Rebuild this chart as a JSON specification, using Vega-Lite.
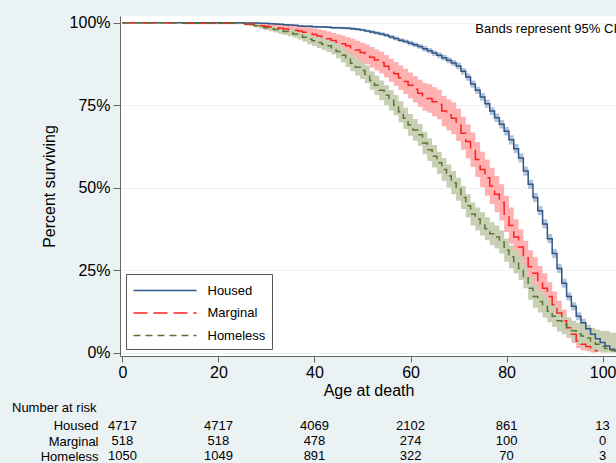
{
  "$schema": "https://vega.github.io/schema/vega-lite/v6.json",
  "background": "#eaf2f3",
  "padding": {"left": 12, "top": 14, "right": 0, "bottom": 0},
  "config": {"font": "Liberation Sans", "view": {"stroke": null}},
  "spacing": 4,
  "resolve": {"scale": {"stroke": "independent", "strokeDash": "independent", "x": "independent", "y": "independent"}, "legend": {"stroke": "independent", "strokeDash": "independent"}},
  "datasets": {
    "km": [
      {"g":"Housed","a":0,"s":100,"l":100,"u":100},
      {"g":"Housed","a":25,"s":100,"l":100,"u":100},
      {"g":"Housed","a":26,"s":99.9,"l":99.8,"u":100},
      {"g":"Housed","a":27,"s":99.9,"l":99.8,"u":100},
      {"g":"Housed","a":28,"s":99.9,"l":99.8,"u":100},
      {"g":"Housed","a":29,"s":99.8,"l":99.7,"u":99.9},
      {"g":"Housed","a":30,"s":99.8,"l":99.7,"u":99.9},
      {"g":"Housed","a":31,"s":99.7,"l":99.6,"u":99.8},
      {"g":"Housed","a":32,"s":99.6,"l":99.4,"u":99.8},
      {"g":"Housed","a":33,"s":99.5,"l":99.3,"u":99.7},
      {"g":"Housed","a":34,"s":99.4,"l":99.2,"u":99.6},
      {"g":"Housed","a":35,"s":99.3,"l":99.1,"u":99.5},
      {"g":"Housed","a":36,"s":99.2,"l":99.0,"u":99.4},
      {"g":"Housed","a":37,"s":99.0,"l":98.8,"u":99.2},
      {"g":"Housed","a":38,"s":98.9,"l":98.7,"u":99.1},
      {"g":"Housed","a":39,"s":98.9,"l":98.6,"u":99.2},
      {"g":"Housed","a":40,"s":98.8,"l":98.5,"u":99.1},
      {"g":"Housed","a":41,"s":98.7,"l":98.4,"u":99.0},
      {"g":"Housed","a":42,"s":98.7,"l":98.4,"u":99.0},
      {"g":"Housed","a":43,"s":98.6,"l":98.3,"u":98.9},
      {"g":"Housed","a":44,"s":98.5,"l":98.2,"u":98.8},
      {"g":"Housed","a":45,"s":98.5,"l":98.2,"u":98.8},
      {"g":"Housed","a":46,"s":98.4,"l":98.0,"u":98.8},
      {"g":"Housed","a":47,"s":98.3,"l":97.9,"u":98.7},
      {"g":"Housed","a":48,"s":98.2,"l":97.8,"u":98.6},
      {"g":"Housed","a":49,"s":98.0,"l":97.6,"u":98.4},
      {"g":"Housed","a":50,"s":97.8,"l":97.4,"u":98.2},
      {"g":"Housed","a":51,"s":97.5,"l":97.1,"u":97.9},
      {"g":"Housed","a":52,"s":97.2,"l":96.7,"u":97.7},
      {"g":"Housed","a":53,"s":96.9,"l":96.4,"u":97.4},
      {"g":"Housed","a":54,"s":96.6,"l":96.1,"u":97.1},
      {"g":"Housed","a":55,"s":96.2,"l":95.7,"u":96.7},
      {"g":"Housed","a":56,"s":95.7,"l":95.1,"u":96.3},
      {"g":"Housed","a":57,"s":95.2,"l":94.6,"u":95.8},
      {"g":"Housed","a":58,"s":94.7,"l":94.1,"u":95.3},
      {"g":"Housed","a":59,"s":94.3,"l":93.7,"u":94.9},
      {"g":"Housed","a":60,"s":93.8,"l":93.1,"u":94.5},
      {"g":"Housed","a":61,"s":93.3,"l":92.6,"u":94.0},
      {"g":"Housed","a":62,"s":92.8,"l":92.1,"u":93.5},
      {"g":"Housed","a":63,"s":92.1,"l":91.3,"u":92.9},
      {"g":"Housed","a":64,"s":91.5,"l":90.7,"u":92.3},
      {"g":"Housed","a":65,"s":90.8,"l":90.0,"u":91.6},
      {"g":"Housed","a":66,"s":90.1,"l":89.2,"u":91.0},
      {"g":"Housed","a":67,"s":89.4,"l":88.5,"u":90.3},
      {"g":"Housed","a":68,"s":88.6,"l":87.7,"u":89.5},
      {"g":"Housed","a":69,"s":87.8,"l":86.9,"u":88.7},
      {"g":"Housed","a":70,"s":86.9,"l":85.9,"u":87.9},
      {"g":"Housed","a":71,"s":85.3,"l":84.3,"u":86.3},
      {"g":"Housed","a":72,"s":83.5,"l":82.4,"u":84.6},
      {"g":"Housed","a":73,"s":81.4,"l":80.3,"u":82.5},
      {"g":"Housed","a":74,"s":79.5,"l":78.4,"u":80.6},
      {"g":"Housed","a":75,"s":77.5,"l":76.3,"u":78.7},
      {"g":"Housed","a":76,"s":75.4,"l":74.2,"u":76.6},
      {"g":"Housed","a":77,"s":73.2,"l":72.0,"u":74.4},
      {"g":"Housed","a":78,"s":71.2,"l":69.9,"u":72.5},
      {"g":"Housed","a":79,"s":69.2,"l":67.9,"u":70.5},
      {"g":"Housed","a":80,"s":67.1,"l":65.8,"u":68.4},
      {"g":"Housed","a":81,"s":64.5,"l":63.1,"u":65.9},
      {"g":"Housed","a":82,"s":61.8,"l":60.4,"u":63.2},
      {"g":"Housed","a":83,"s":59.0,"l":57.6,"u":60.4},
      {"g":"Housed","a":84,"s":55.0,"l":53.6,"u":56.4},
      {"g":"Housed","a":85,"s":51.0,"l":49.6,"u":52.4},
      {"g":"Housed","a":86,"s":47.0,"l":45.6,"u":48.4},
      {"g":"Housed","a":87,"s":43.0,"l":41.6,"u":44.4},
      {"g":"Housed","a":88,"s":39.0,"l":37.6,"u":40.4},
      {"g":"Housed","a":89,"s":34.5,"l":33.1,"u":35.9},
      {"g":"Housed","a":90,"s":30.0,"l":28.6,"u":31.4},
      {"g":"Housed","a":91,"s":25.5,"l":24.1,"u":26.9},
      {"g":"Housed","a":92,"s":21.0,"l":19.6,"u":22.4},
      {"g":"Housed","a":93,"s":17.0,"l":15.8,"u":18.2},
      {"g":"Housed","a":94,"s":14.0,"l":12.8,"u":15.2},
      {"g":"Housed","a":95,"s":11.0,"l":9.8,"u":12.2},
      {"g":"Housed","a":96,"s":9.0,"l":7.8,"u":10.2},
      {"g":"Housed","a":97,"s":7.2,"l":6.0,"u":8.4},
      {"g":"Housed","a":98,"s":5.5,"l":4.3,"u":6.7},
      {"g":"Housed","a":99,"s":4.2,"l":3.4,"u":5.0},
      {"g":"Housed","a":100,"s":3.0,"l":2.2,"u":3.8},
      {"g":"Housed","a":101,"s":2.0,"l":1.3,"u":2.7},
      {"g":"Housed","a":102,"s":1.0,"l":0.5,"u":1.5},
      {"g":"Housed","a":103,"s":0.5,"l":0.2,"u":0.8},
      {"g":"Marginal","a":0,"s":100,"l":100,"u":100},
      {"g":"Marginal","a":25,"s":99.8,"l":99.5,"u":100},
      {"g":"Marginal","a":26,"s":99.6,"l":99.1,"u":100},
      {"g":"Marginal","a":27,"s":99.5,"l":98.9,"u":100},
      {"g":"Marginal","a":28,"s":99.3,"l":98.6,"u":100},
      {"g":"Marginal","a":29,"s":99.1,"l":98.3,"u":99.9},
      {"g":"Marginal","a":30,"s":98.9,"l":98.0,"u":99.8},
      {"g":"Marginal","a":31,"s":98.7,"l":97.7,"u":99.7},
      {"g":"Marginal","a":32,"s":98.5,"l":97.4,"u":99.6},
      {"g":"Marginal","a":33,"s":98.3,"l":97.1,"u":99.5},
      {"g":"Marginal","a":34,"s":98.1,"l":96.8,"u":99.4},
      {"g":"Marginal","a":35,"s":97.9,"l":96.5,"u":99.3},
      {"g":"Marginal","a":36,"s":97.7,"l":96.2,"u":99.2},
      {"g":"Marginal","a":37,"s":97.5,"l":95.9,"u":99.1},
      {"g":"Marginal","a":38,"s":97.1,"l":95.4,"u":98.8},
      {"g":"Marginal","a":39,"s":96.8,"l":95.0,"u":98.6},
      {"g":"Marginal","a":40,"s":96.4,"l":94.5,"u":98.3},
      {"g":"Marginal","a":41,"s":96.0,"l":94.0,"u":98.0},
      {"g":"Marginal","a":42,"s":95.6,"l":93.5,"u":97.7},
      {"g":"Marginal","a":43,"s":95.1,"l":92.9,"u":97.3},
      {"g":"Marginal","a":44,"s":94.6,"l":92.3,"u":96.9},
      {"g":"Marginal","a":45,"s":94.1,"l":91.7,"u":96.5},
      {"g":"Marginal","a":46,"s":93.6,"l":91.1,"u":96.1},
      {"g":"Marginal","a":47,"s":93.0,"l":90.4,"u":95.6},
      {"g":"Marginal","a":48,"s":92.4,"l":89.7,"u":95.1},
      {"g":"Marginal","a":49,"s":91.7,"l":88.9,"u":94.5},
      {"g":"Marginal","a":50,"s":91.0,"l":88.1,"u":93.9},
      {"g":"Marginal","a":51,"s":90.4,"l":87.4,"u":93.4},
      {"g":"Marginal","a":52,"s":89.5,"l":86.4,"u":92.6},
      {"g":"Marginal","a":53,"s":88.7,"l":85.5,"u":91.9},
      {"g":"Marginal","a":54,"s":87.9,"l":84.6,"u":91.2},
      {"g":"Marginal","a":55,"s":86.8,"l":83.4,"u":90.2},
      {"g":"Marginal","a":56,"s":85.6,"l":82.1,"u":89.1},
      {"g":"Marginal","a":57,"s":84.5,"l":80.9,"u":88.1},
      {"g":"Marginal","a":58,"s":83.3,"l":79.6,"u":87.0},
      {"g":"Marginal","a":59,"s":82.2,"l":78.4,"u":86.0},
      {"g":"Marginal","a":60,"s":81.0,"l":77.1,"u":84.9},
      {"g":"Marginal","a":61,"s":79.8,"l":75.8,"u":83.8},
      {"g":"Marginal","a":62,"s":78.6,"l":74.5,"u":82.7},
      {"g":"Marginal","a":63,"s":77.5,"l":73.3,"u":81.7},
      {"g":"Marginal","a":64,"s":77.0,"l":72.7,"u":81.3},
      {"g":"Marginal","a":65,"s":76.0,"l":71.6,"u":80.4},
      {"g":"Marginal","a":66,"s":75.2,"l":70.7,"u":79.7},
      {"g":"Marginal","a":67,"s":73.2,"l":68.6,"u":77.8},
      {"g":"Marginal","a":68,"s":72.0,"l":67.3,"u":76.7},
      {"g":"Marginal","a":69,"s":71.0,"l":66.2,"u":75.8},
      {"g":"Marginal","a":70,"s":69.0,"l":64.1,"u":73.9},
      {"g":"Marginal","a":71,"s":66.5,"l":61.5,"u":71.5},
      {"g":"Marginal","a":72,"s":64.0,"l":58.9,"u":69.1},
      {"g":"Marginal","a":73,"s":61.5,"l":56.3,"u":66.7},
      {"g":"Marginal","a":74,"s":58.5,"l":53.2,"u":63.8},
      {"g":"Marginal","a":75,"s":55.5,"l":50.1,"u":60.9},
      {"g":"Marginal","a":76,"s":53.0,"l":47.5,"u":58.5},
      {"g":"Marginal","a":77,"s":50.5,"l":45.0,"u":56.0},
      {"g":"Marginal","a":78,"s":48.0,"l":42.5,"u":53.5},
      {"g":"Marginal","a":79,"s":45.5,"l":40.0,"u":51.0},
      {"g":"Marginal","a":80,"s":42.0,"l":36.5,"u":47.5},
      {"g":"Marginal","a":81,"s":38.5,"l":33.0,"u":44.0},
      {"g":"Marginal","a":82,"s":35.0,"l":29.6,"u":40.4},
      {"g":"Marginal","a":83,"s":32.0,"l":26.7,"u":37.3},
      {"g":"Marginal","a":84,"s":28.7,"l":23.5,"u":33.9},
      {"g":"Marginal","a":85,"s":26.0,"l":21.0,"u":31.0},
      {"g":"Marginal","a":86,"s":24.0,"l":19.1,"u":28.9},
      {"g":"Marginal","a":87,"s":21.5,"l":16.8,"u":26.2},
      {"g":"Marginal","a":88,"s":19.5,"l":15.0,"u":24.0},
      {"g":"Marginal","a":89,"s":17.0,"l":12.7,"u":21.3},
      {"g":"Marginal","a":90,"s":14.5,"l":10.5,"u":18.5},
      {"g":"Marginal","a":91,"s":12.0,"l":8.3,"u":15.7},
      {"g":"Marginal","a":92,"s":9.6,"l":6.2,"u":13.0},
      {"g":"Marginal","a":93,"s":7.5,"l":4.5,"u":10.5},
      {"g":"Marginal","a":94,"s":5.5,"l":2.9,"u":8.1},
      {"g":"Marginal","a":95,"s":3.5,"l":1.3,"u":5.7},
      {"g":"Marginal","a":96,"s":2.5,"l":0.7,"u":4.3},
      {"g":"Marginal","a":97,"s":1.8,"l":0.4,"u":3.2},
      {"g":"Marginal","a":98,"s":1.0,"l":0.0,"u":2.0},
      {"g":"Marginal","a":99,"s":0.5,"l":0.0,"u":1.0},
      {"g":"Homeless","a":0,"s":100,"l":100,"u":100},
      {"g":"Homeless","a":25,"s":99.8,"l":99.6,"u":100},
      {"g":"Homeless","a":26,"s":99.6,"l":99.3,"u":99.9},
      {"g":"Homeless","a":27,"s":99.4,"l":99.0,"u":99.8},
      {"g":"Homeless","a":28,"s":99.1,"l":98.6,"u":99.6},
      {"g":"Homeless","a":29,"s":98.8,"l":98.2,"u":99.4},
      {"g":"Homeless","a":30,"s":98.5,"l":97.8,"u":99.2},
      {"g":"Homeless","a":31,"s":98.2,"l":97.4,"u":99.0},
      {"g":"Homeless","a":32,"s":97.9,"l":97.0,"u":98.8},
      {"g":"Homeless","a":33,"s":97.6,"l":96.6,"u":98.6},
      {"g":"Homeless","a":34,"s":97.3,"l":96.3,"u":98.3},
      {"g":"Homeless","a":35,"s":97.0,"l":95.9,"u":98.1},
      {"g":"Homeless","a":36,"s":96.6,"l":95.4,"u":97.8},
      {"g":"Homeless","a":37,"s":96.2,"l":94.9,"u":97.5},
      {"g":"Homeless","a":38,"s":95.6,"l":94.2,"u":97.0},
      {"g":"Homeless","a":39,"s":95.0,"l":93.5,"u":96.5},
      {"g":"Homeless","a":40,"s":94.5,"l":92.9,"u":96.1},
      {"g":"Homeless","a":41,"s":94.0,"l":92.3,"u":95.7},
      {"g":"Homeless","a":42,"s":93.5,"l":91.7,"u":95.3},
      {"g":"Homeless","a":43,"s":93.0,"l":91.1,"u":94.9},
      {"g":"Homeless","a":44,"s":92.4,"l":90.4,"u":94.4},
      {"g":"Homeless","a":45,"s":91.3,"l":89.2,"u":93.4},
      {"g":"Homeless","a":46,"s":90.1,"l":87.9,"u":92.3},
      {"g":"Homeless","a":47,"s":88.9,"l":86.6,"u":91.2},
      {"g":"Homeless","a":48,"s":87.7,"l":85.3,"u":90.1},
      {"g":"Homeless","a":49,"s":86.5,"l":84.0,"u":89.0},
      {"g":"Homeless","a":50,"s":85.5,"l":82.9,"u":88.1},
      {"g":"Homeless","a":51,"s":84.4,"l":81.7,"u":87.1},
      {"g":"Homeless","a":52,"s":82.5,"l":79.7,"u":85.3},
      {"g":"Homeless","a":53,"s":81.0,"l":78.1,"u":83.9},
      {"g":"Homeless","a":54,"s":79.5,"l":76.5,"u":82.5},
      {"g":"Homeless","a":55,"s":78.0,"l":75.0,"u":81.0},
      {"g":"Homeless","a":56,"s":76.5,"l":73.4,"u":79.6},
      {"g":"Homeless","a":57,"s":75.0,"l":71.9,"u":78.1},
      {"g":"Homeless","a":58,"s":73.0,"l":69.8,"u":76.2},
      {"g":"Homeless","a":59,"s":71.0,"l":67.8,"u":74.2},
      {"g":"Homeless","a":60,"s":69.0,"l":65.7,"u":72.3},
      {"g":"Homeless","a":61,"s":67.5,"l":64.2,"u":70.8},
      {"g":"Homeless","a":62,"s":66.0,"l":62.7,"u":69.3},
      {"g":"Homeless","a":63,"s":63.5,"l":60.1,"u":66.9},
      {"g":"Homeless","a":64,"s":61.5,"l":58.1,"u":64.9},
      {"g":"Homeless","a":65,"s":59.5,"l":56.1,"u":62.9},
      {"g":"Homeless","a":66,"s":57.5,"l":54.1,"u":60.9},
      {"g":"Homeless","a":67,"s":55.5,"l":52.0,"u":59.0},
      {"g":"Homeless","a":68,"s":53.5,"l":50.0,"u":57.0},
      {"g":"Homeless","a":69,"s":51.5,"l":48.0,"u":55.0},
      {"g":"Homeless","a":70,"s":49.5,"l":46.0,"u":53.0},
      {"g":"Homeless","a":71,"s":47.0,"l":43.5,"u":50.5},
      {"g":"Homeless","a":72,"s":44.5,"l":41.0,"u":48.0},
      {"g":"Homeless","a":73,"s":42.0,"l":38.5,"u":45.5},
      {"g":"Homeless","a":74,"s":40.5,"l":37.0,"u":44.0},
      {"g":"Homeless","a":75,"s":39.0,"l":35.5,"u":42.5},
      {"g":"Homeless","a":76,"s":37.5,"l":34.0,"u":41.0},
      {"g":"Homeless","a":77,"s":36.0,"l":32.5,"u":39.5},
      {"g":"Homeless","a":78,"s":35.0,"l":31.5,"u":38.5},
      {"g":"Homeless","a":79,"s":33.5,"l":30.0,"u":37.0},
      {"g":"Homeless","a":80,"s":31.0,"l":27.5,"u":34.5},
      {"g":"Homeless","a":81,"s":29.0,"l":25.5,"u":32.5},
      {"g":"Homeless","a":82,"s":27.5,"l":24.0,"u":31.0},
      {"g":"Homeless","a":83,"s":25.5,"l":22.0,"u":29.0},
      {"g":"Homeless","a":84,"s":23.0,"l":19.5,"u":26.5},
      {"g":"Homeless","a":85,"s":19.5,"l":16.0,"u":23.0},
      {"g":"Homeless","a":86,"s":17.0,"l":13.6,"u":20.4},
      {"g":"Homeless","a":87,"s":15.5,"l":12.1,"u":18.9},
      {"g":"Homeless","a":88,"s":14.0,"l":10.6,"u":17.4},
      {"g":"Homeless","a":89,"s":12.5,"l":9.2,"u":15.8},
      {"g":"Homeless","a":90,"s":11.0,"l":7.7,"u":14.3},
      {"g":"Homeless","a":91,"s":9.6,"l":6.4,"u":12.8},
      {"g":"Homeless","a":92,"s":8.6,"l":5.5,"u":11.7},
      {"g":"Homeless","a":93,"s":7.6,"l":4.6,"u":10.6},
      {"g":"Homeless","a":94,"s":6.6,"l":3.6,"u":9.6},
      {"g":"Homeless","a":95,"s":5.7,"l":2.5,"u":9.0},
      {"g":"Homeless","a":96,"s":5.0,"l":1.8,"u":8.5},
      {"g":"Homeless","a":97,"s":4.4,"l":1.2,"u":8.0},
      {"g":"Homeless","a":98,"s":3.5,"l":0.6,"u":7.5},
      {"g":"Homeless","a":99,"s":2.5,"l":0.2,"u":7.0},
      {"g":"Homeless","a":100,"s":1.8,"l":0.0,"u":6.5},
      {"g":"Homeless","a":101,"s":1.2,"l":0.0,"u":6.5},
      {"g":"Homeless","a":102,"s":0.6,"l":0.0,"u":6.0},
      {"g":"Homeless","a":103,"s":0.6,"l":0.0,"u":6.0}
    ],
    "risk": [
      {"g":"Housed","a":0,"n":"4717"},
      {"g":"Housed","a":20,"n":"4717"},
      {"g":"Housed","a":40,"n":"4069"},
      {"g":"Housed","a":60,"n":"2102"},
      {"g":"Housed","a":80,"n":"861"},
      {"g":"Housed","a":100,"n":"13"},
      {"g":"Marginal","a":0,"n":"518"},
      {"g":"Marginal","a":20,"n":"518"},
      {"g":"Marginal","a":40,"n":"478"},
      {"g":"Marginal","a":60,"n":"274"},
      {"g":"Marginal","a":80,"n":"100"},
      {"g":"Marginal","a":100,"n":"0"},
      {"g":"Homeless","a":0,"n":"1050"},
      {"g":"Homeless","a":20,"n":"1049"},
      {"g":"Homeless","a":40,"n":"891"},
      {"g":"Homeless","a":60,"n":"322"},
      {"g":"Homeless","a":80,"n":"70"},
      {"g":"Homeless","a":100,"n":"3"}
    ]
  },
  "vconcat": [
    {
      "width": 497,
      "height": 340,
      "view": {"fill": "white", "stroke": null},
      "data": {"name": "km"},
      "encoding": {
        "x": {"field": "a", "type": "quantitative",
          "scale": {"domain": [-0.5, 103], "nice": false, "zero": false},
          "axis": {"values": [0, 20, 40, 60, 80, 100], "title": "Age at death", "grid": false,
            "labelFontSize": 16, "titleFontSize": 16, "titleFontWeight": "normal",
            "labelColor": "black", "titleColor": "black", "tickSize": 6, "tickColor": "#666",
            "domainColor": "#666", "labelPadding": 2, "titlePadding": 2, "labelFlush": false}}
      },
      "layer": [
        {
          "transform": [{"filter": "datum.g === 'Housed'"}],
          "mark": {"type": "area", "interpolate": "step", "color": "#b3c2d6"},
          "encoding": {
            "y": {"field": "l", "type": "quantitative",
              "scale": {"domain": [-1.06, 102.03], "nice": false, "zero": false},
              "axis": {"values": [0, 25, 50, 75, 100], "labelExpr": "datum.value + '%'",
                "title": "Percent surviving", "titleFontSize": 16, "titleFontWeight": "normal",
                "labelFontSize": 16, "labelColor": "black", "titleColor": "black",
                "tickSize": 7, "tickColor": "#666", "domainColor": "#666",
                "gridColor": "#eaf2f3", "gridWidth": 1.2, "labelPadding": 3, "titlePadding": 12}},
            "y2": {"field": "u"}
          }
        },
        {
          "transform": [{"filter": "datum.g === 'Marginal'"}],
          "mark": {"type": "area", "interpolate": "step", "color": "#ffb0b0"},
          "encoding": {
            "y": {"field": "l", "type": "quantitative"},
            "y2": {"field": "u"}
          }
        },
        {
          "transform": [{"filter": "datum.g === 'Homeless'"}],
          "mark": {"type": "area", "interpolate": "step", "color": "#c8cfb3"},
          "encoding": {
            "y": {"field": "l", "type": "quantitative"},
            "y2": {"field": "u"}
          }
        },
        {
          "mark": {"type": "line", "interpolate": "step", "strokeWidth": 1.5},
          "encoding": {
            "y": {"field": "s", "type": "quantitative"},
            "stroke": {"field": "g", "type": "nominal",
              "scale": {"domain": ["Housed", "Marginal", "Homeless"], "range": ["#2f5787", "#ff2020", "#5a7536"]},
              "legend": {"orient": "none", "legendX": 6, "legendY": 258, "title": null,
                "fillColor": "white", "strokeColor": "#555", "padding": 6.5,
                "symbolType": "M-1,0H6", "symbolSize": 324, "symbolStrokeWidth": 1.5,
                "labelFontSize": 13, "labelColor": "black", "labelOffset": 55, "rowPadding": 5.5}},
            "strokeDash": {"field": "g", "type": "nominal",
              "scale": {"domain": ["Housed", "Marginal", "Homeless"], "range": [[1, 0], [14, 6], [7, 5]]},
              "legend": {"orient": "none", "legendX": 6, "legendY": 258, "title": null}}
          }
        },
        {
          "data": {"values": [{"a": 103, "s": 98.1, "t": "Bands represent 95% CI"}]},
          "mark": {"type": "text", "align": "right", "baseline": "middle", "fontSize": 13, "color": "black"},
          "encoding": {
            "y": {"field": "s", "type": "quantitative"},
            "text": {"field": "t"}
          }
        }
      ]
    },
    {
      "width": 497,
      "height": 46,
      "view": {"stroke": null},
      "data": {"name": "risk"},
      "title": {"text": "Number at risk", "anchor": "start", "frame": "group", "dx": -108,
        "fontSize": 13, "fontWeight": "normal", "color": "black", "offset": 3},
      "mark": {"type": "text", "fontSize": 13, "color": "black"},
      "encoding": {
        "x": {"field": "a", "type": "quantitative",
          "scale": {"domain": [-0.5, 103], "nice": false, "zero": false}, "axis": null},
        "y": {"field": "g", "type": "nominal",
          "scale": {"domain": ["Housed", "Marginal", "Homeless"]},
          "axis": {"title": null, "ticks": false, "domain": false, "labelFontSize": 13,
            "labelColor": "black", "labelPadding": 22}},
        "text": {"field": "n"}
      }
    }
  ]
}
